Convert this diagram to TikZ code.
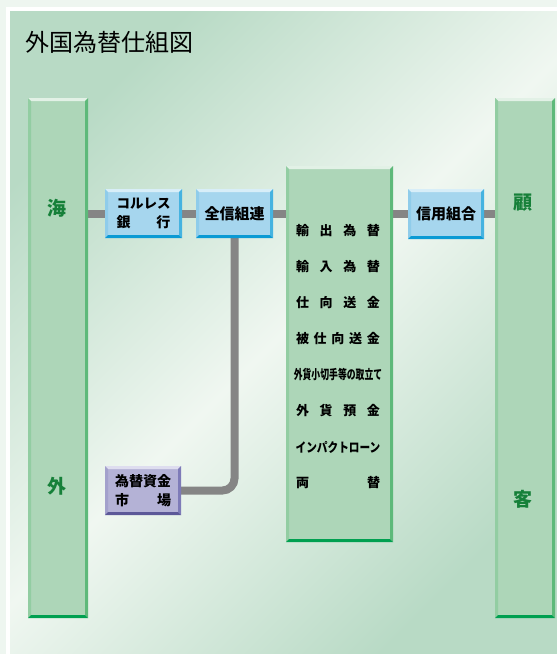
\documentclass[tikz,border=0pt]{standalone}
\usepackage{graphicx}
\usepackage{fontspec}
\setmainfont{Noto Sans CJK JP}
\usetikzlibrary{backgrounds}

\definecolor{outerbg}{HTML}{EEF6F0}
\definecolor{paneldark}{HTML}{B8DAC5}
\definecolor{panellight}{HTML}{F0F7F1}
\definecolor{linegray}{HTML}{858585}
\definecolor{colfill}{HTML}{ADD6B8}
\definecolor{coltop}{HTML}{E2F1E6}
\definecolor{colleft}{HTML}{92CDA2}
\definecolor{colright}{HTML}{5EB97A}
\definecolor{colbottom}{HTML}{00A050}
\definecolor{bluefill}{HTML}{A6D6EE}
\definecolor{bluetop}{HTML}{D8EEF8}
\definecolor{blueleft}{HTML}{8FCCEA}
\definecolor{blueright}{HTML}{45B3E0}
\definecolor{bluebottom}{HTML}{0A9AD4}
\definecolor{purfill}{HTML}{B4B2D6}
\definecolor{purtop}{HTML}{DEDDEF}
\definecolor{purleft}{HTML}{A3A1CC}
\definecolor{purright}{HTML}{7E7BB8}
\definecolor{purbottom}{HTML}{5C5898}
\definecolor{lblgreen}{HTML}{168039}

\tikzset{
  bevel/.style n args={5}{fill=#1, path picture={
    \coordinate (nw) at (path picture bounding box.north west);
    \coordinate (ne) at (path picture bounding box.north east);
    \coordinate (sw) at (path picture bounding box.south west);
    \coordinate (se) at (path picture bounding box.south east);
    \fill[#2] (nw) -- (ne) -- ([shift={(-3pt,-3pt)}]ne) -- ([shift={(3pt,-3pt)}]nw) -- cycle;
    \fill[#3] (nw) -- (sw) -- ([shift={(3pt,3pt)}]sw) -- ([shift={(3pt,-3pt)}]nw) -- cycle;
    \fill[#4] (ne) -- (se) -- ([shift={(-3pt,3pt)}]se) -- ([shift={(-3pt,-3pt)}]ne) -- cycle;
    \fill[#5] (sw) -- (se) -- ([shift={(-3pt,3pt)}]se) -- ([shift={(3pt,3pt)}]sw) -- cycle;
  }},
  column/.style={bevel={colfill}{coltop}{colleft}{colright}{colbottom}, inner sep=0pt},
  bluebox/.style={bevel={bluefill}{bluetop}{blueleft}{blueright}{bluebottom},
    minimum width=77pt, minimum height=49pt, inner sep=0pt, align=center,
    font=\fontsize{14}{19}\selectfont\bfseries},
  purbox/.style={bevel={purfill}{purtop}{purleft}{purright}{purbottom},
    minimum width=76pt, minimum height=49pt, inner sep=0pt, align=center,
    font=\fontsize{14}{19}\selectfont\bfseries},
  endlbl/.style={text=lblgreen, font=\fontsize{19}{19}\selectfont\bfseries, inner sep=0pt},
  item/.style={font=\fontsize{13}{13}\selectfont\bfseries, inner sep=0pt},
  link/.style={draw=linegray, line width=8pt}
}

\begin{document}
\begin{tikzpicture}[x=1pt,y=-1pt]
  \useasboundingbox (0,0) rectangle (557,654);

  % columns
  \node[column, minimum width=60pt, minimum height=520pt] (kaigai) at (58,358) {};
  \node[column, minimum width=107pt, minimum height=376pt] (gyomu) at (339.5,354) {};
  \node[column, minimum width=60pt, minimum height=520pt] (kokyaku) at (525,358) {};
  \node[endlbl] (umi) at (57,208) {海};
  \node[endlbl] (gai) at (57,486) {外};
  \node[endlbl] (ko) at (523,203) {顧};
  \node[endlbl] (kyaku) at (523,499) {客};

  % boxes
  \node[bluebox] (corres) at (143.5,213.5) {\fontsize{13.5}{19}\selectfont コルレス\\\makebox[54pt][s]{銀\hfill 行}};
  \node[bluebox] (zenshin) at (234.5,213.5) {\fontsize{15}{19}\selectfont 全信組連};
  \node[bluebox, minimum width=76pt, minimum height=50pt] (shinkumi) at (446,214) {\fontsize{15}{19}\selectfont 信用組合};
  \node[purbox] (shikin) at (143,490.5) {為替資金\\\makebox[56pt][s]{市\hfill 場}};

  % business items
  \foreach \txt [count=\i] in {
      {\makebox[84pt][s]{輸\hfill 出\hfill 為\hfill 替}},
      {\makebox[84pt][s]{輸\hfill 入\hfill 為\hfill 替}},
      {\makebox[84pt][s]{仕\hfill 向\hfill 送\hfill 金}},
      {\makebox[84pt][s]{被\hfill 仕\hfill 向\hfill 送\hfill 金}},
      {\makebox[84pt]{\scalebox{0.68}[1]{外貨小切手等の取立て}}},
      {\makebox[84pt][s]{外\hfill 貨\hfill 預\hfill 金}},
      {\makebox[84pt]{\scalebox{0.82}[1]{インパクトローン}}},
      {\makebox[84pt][s]{両\hfill 替}}}
    \node[item] (item\i) at (338,{231+36*(\i-1)}) {\txt};

  \begin{scope}[on background layer]
    \fill[outerbg] (0,0) rectangle (557,654);
    \fill[white] (6,7) rectangle (557,654);
    \shade[left color=paneldark, right color=paneldark, middle color=panellight, shading angle=45]
      (10,11) rectangle (557,654);
    \node[anchor=west, inner sep=0pt, font=\fontsize{24}{24}\selectfont] (title) at (25,42) {外国為替仕組図};

    \draw[link] (kaigai.east |- corres) -- (corres.west);
    \draw[link] (corres.east) -- (zenshin.west);
    \draw[link] (zenshin.east) -- (gyomu.west |- zenshin);
    \draw[link] (gyomu.east |- shinkumi) -- (shinkumi.west);
    \draw[link] (shinkumi.east) -- (kokyaku.west |- shinkumi);
    \draw[link, rounded corners=12pt] (zenshin.south) |- (shikin.east);
  \end{scope}
\end{tikzpicture}
\end{document}
